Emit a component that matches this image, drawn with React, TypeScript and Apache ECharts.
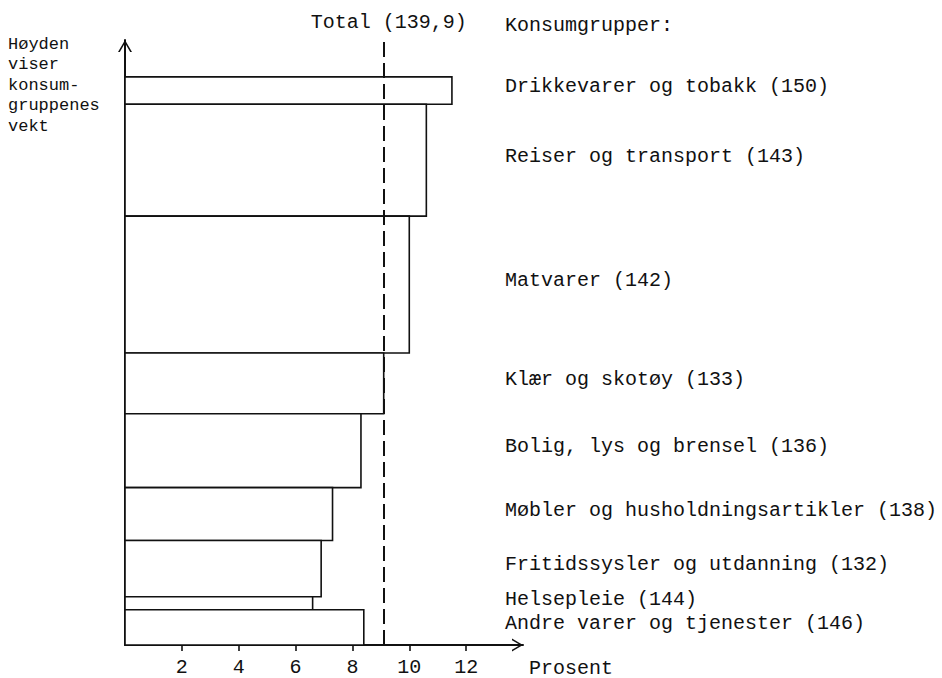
import React, { useEffect, useRef } from "react";
import * as echarts from "echarts";

// ---- Data ----
const groupNames = [
  "Drikkevarer og tobakk",
  "Reiser og transport",
  "Matvarer",
  "Klær og skotøy",
  "Bolig, lys og brensel",
  "Møbler og husholdningsartikler",
  "Fritidssysler og utdanning",
  "Helsepleie",
  "Andre varer og tjenester",
];
const indexValues = [150, 143, 142, 133, 136, 138, 132, 144, 146];
const percentChange = [11.5, 10.6, 10.0, 9.1, 8.3, 7.3, 6.9, 6.6, 8.4];
const weights = [4.8, 19.7, 24.1, 10.7, 13.0, 9.3, 9.9, 2.3, 6.2];
const totalChange = 9.1;
const totalLabel = "Total (139,9)";
const xTickValues = [2, 4, 6, 8, 10, 12];
const xAxisName = "Prosent";
const legendTitle = "Konsumgrupper:";
const yAxisNoteLines = ["Høyden", "viser", "konsum-", "gruppenes", "vekt"];

const FONT = '"Liberation Mono", "DejaVu Sans Mono", monospace';
const INK = "#111";
const LABEL_X = 505;

const chevron = "path://M0,12 L7,0 L14,12 L12.2,12 L7,3.1 L1.8,12 Z";

export default function App() {
  const ref = useRef<HTMLDivElement>(null);

  useEffect(() => {
    if (!ref.current) return;
    const chart = echarts.init(ref.current, null, { renderer: "svg" });

    // stack bars from the bottom (last group) upwards
    const n = groupNames.length;
    const items: any[] = new Array(n);
    let acc = 0;
    for (let i = n - 1; i >= 0; i--) {
      items[i] = [percentChange[i], acc, acc + weights[i]];
      acc += weights[i];
    }
    const labels = groupNames.map((g, i) => `${g} (${indexValues[i]})`);

    const noteTexts = yAxisNoteLines.map((line, i) => ({
      type: "text",
      x: 8,
      y: 44 + i * 20.5,
      style: {
        text: line,
        font: `17px ${FONT}`,
        fill: INK,
        align: "left",
        verticalAlign: "middle",
      },
    }));

    const option: any = {
      animation: false,
      backgroundColor: "#fff",
      grid: {
        left: 125,
        right: 419,
        top: 40,
        bottom: 33,
        outerBoundsMode: "none",
        containLabel: false,
      },
      xAxis: {
        type: "value",
        min: 0,
        max: 14,
        interval: 2,
        splitLine: { show: false },
        axisLine: {
          show: true,
          lineStyle: { color: INK, width: 2 },
          symbol: ["none", chevron],
          symbolSize: [14, 11],
          symbolOffset: [0, -5.5],
        },
        axisTick: {
          show: true,
          length: 6,
          lineStyle: { color: INK, width: 1.6 },
          customValues: xTickValues,
        },
        axisLabel: {
          show: true,
          margin: 12,
          color: INK,
          fontFamily: FONT,
          fontSize: 20,
          customValues: xTickValues,
        },
      },
      yAxis: {
        type: "value",
        min: 0,
        max: 106.5,
        splitLine: { show: false },
        axisTick: { show: false },
        axisLabel: { show: false },
        axisLine: {
          show: true,
          lineStyle: { color: INK, width: 2 },
          symbol: ["none", chevron],
          symbolSize: [14, 12],
          symbolOffset: [0, -6],
        },
      },
      series: [
        {
          type: "custom",
          clip: false,
          data: items,
          encode: { x: 0, y: [1, 2] },
          renderItem: (params: any, api: any) => {
            const v = api.value(0);
            const y0 = api.value(1);
            const y1 = api.value(2);
            const bl = api.coord([0, y0]);
            const tr = api.coord([v, y1]);
            return {
              type: "group",
              children: [
                {
                  type: "rect",
                  shape: {
                    x: bl[0],
                    y: tr[1],
                    width: tr[0] - bl[0],
                    height: bl[1] - tr[1],
                  },
                  style: { fill: "#fff", stroke: INK, lineWidth: 1.6 },
                },
                {
                  type: "text",
                  x: LABEL_X,
                  y: (bl[1] + tr[1]) / 2 - 4,
                  style: {
                    text: labels[params.dataIndex],
                    font: `20px ${FONT}`,
                    fill: INK,
                    align: "left",
                    verticalAlign: "middle",
                  },
                },
              ],
            };
          },
          markLine: {
            silent: true,
            z: 10,
            symbol: ["none", "none"],
            lineStyle: { color: INK, width: 2, type: [15, 6] },
            label: {
              show: true,
              position: "end",
              distance: 8,
              formatter: totalLabel,
              color: INK,
              fontFamily: FONT,
              fontSize: 20,
              padding: [0, 0, 0, 10],
            },
            data: [{ xAxis: totalChange }],
          },
        },
      ],
      graphic: [
        ...noteTexts,
        {
          type: "text",
          x: LABEL_X,
          y: 25,
          style: {
            text: legendTitle,
            font: `20px ${FONT}`,
            fill: INK,
            align: "left",
            verticalAlign: "middle",
          },
        },
        {
          type: "text",
          x: 529,
          y: 668,
          style: {
            text: xAxisName,
            font: `20px ${FONT}`,
            fill: INK,
            align: "left",
            verticalAlign: "middle",
          },
        },
      ],
    };

    chart.setOption(option);
    return () => chart.dispose();
  }, []);

  return (
    <div
      ref={ref}
      style={{
        position: "absolute",
        left: 0,
        top: 0,
        width: 942,
        height: 678,
        background: "#fff",
      }}
    />
  );
}
